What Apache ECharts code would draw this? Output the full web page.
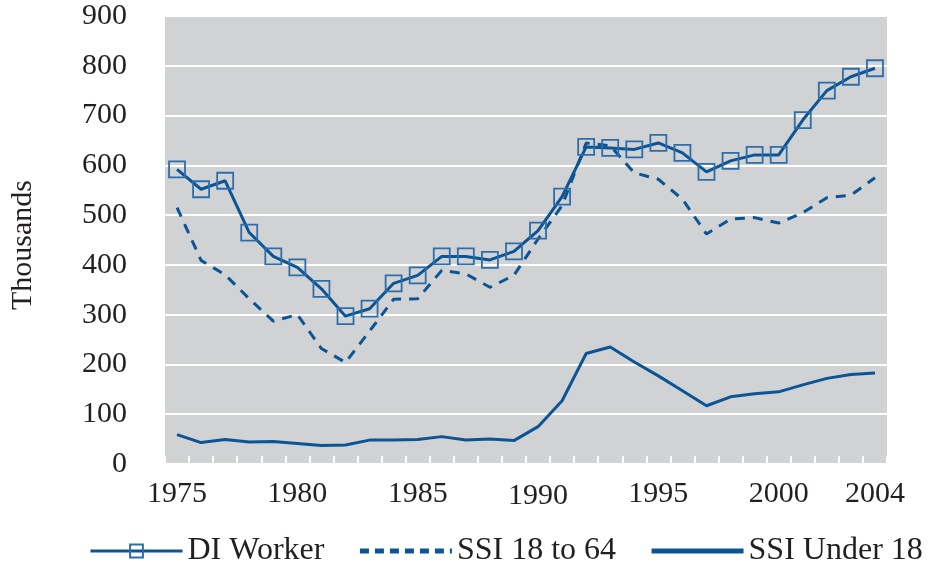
<!DOCTYPE html>
<html>
<head>
<meta charset="utf-8">
<script src="https://cdn.jsdelivr.net/npm/echarts@6/dist/echarts.min.js"></script>
<style>
html,body{margin:0;padding:0;background:#fff;}
#chart{width:933px;height:569px;}
</style>
</head>
<body>
<div id="chart"></div>
<script>
const years = ['1975','1976','1977','1978','1979','1980','1981','1982','1983','1984','1985','1986','1987','1988','1989','1990','1991','1992','1993','1994','1995','1996','1997','1998','1999','2000','2001','2002','2003','2004'];
const xTickLabels = ['1975','1980','1985','1990','1995','2000','2004'];
const diWorker = [592,552,569,465,417,395,352,297,312,363,379,417,417,410,427,469,537,637,635,632,645,625,587,609,621,621,691,750,778,795];
const ssi18to64 = [515,409,380,332,287,300,232,204,267,331,332,389,382,355,379,452,519,645,639,585,572,532,462,492,495,484,505,535,540,575];
const ssiUnder18 = [59,43,49,44,45,41,37,38,48,48,49,55,48,50,47,75,127,222,235,205,177,147,117,135,141,145,159,172,180,183];
const seriesNames = ['DI Worker','SSI 18 to 64','SSI Under 18'];

const FONT = '"Liberation Serif", "DejaVu Serif", serif';
const TXT = '#231f20';
const BLUE = '#0b5596';

const chart = echarts.init(document.getElementById('chart'));
chart.setOption({
  animation: false,
  textStyle: {fontFamily: FONT, color: TXT},
  grid: {left: 165, right: 46, top: 16, bottom: 105, show: true, backgroundColor: '#d1d2d4', borderWidth: 0},
  graphic: [{
    type: 'text', left: 8, top: 180, rotation: Math.PI / 2,
    style: {text: 'Thousands', font: '30px ' + FONT, fill: TXT}
  }],
  legend: {
    left: 84, top: 530, itemWidth: 92, itemHeight: 16, itemGap: 33,
    textStyle: {fontFamily: FONT, fontSize: 32, color: TXT},
    data: [
      {name: seriesNames[0], lineStyle: {width: 3}},
      {name: seriesNames[1], lineStyle: {width: 5, type: [9, 6]}, itemStyle: {opacity: 0}},
      {name: seriesNames[2], lineStyle: {width: 5}, itemStyle: {opacity: 0}}
    ]
  },
  xAxis: {
    type: 'category', data: years, boundaryGap: true,
    axisLine: {show: false},
    axisTick: {show: true, inside: true, length: 8, interval: 0, lineStyle: {color: '#ffffff', width: 2}},
    axisLabel: {
      interval: 0, margin: 15, fontSize: 30, fontFamily: FONT, color: TXT,
      formatter: function (v) {
        if (xTickLabels.indexOf(v) < 0) return '';
        return v === '1990' ? '{low|' + v + '}' : v;
      },
      rich: {low: {fontSize: 30, fontFamily: FONT, color: TXT, padding: [2, 0, 0, 0]}}
    },
    splitLine: {show: false}
  },
  yAxis: {
    type: 'value', min: 0, max: 900, interval: 100,
    axisLine: {show: false}, axisTick: {show: false},
    axisLabel: {margin: 38, fontSize: 30, fontFamily: FONT, color: TXT},
    splitLine: {lineStyle: {color: '#ffffff', width: 2}}
  },
  series: [
    {
      name: seriesNames[0], type: 'line', data: diWorker,
      symbol: 'rect', symbolSize: 16,
      lineStyle: {color: BLUE, width: 3},
      itemStyle: {color: 'rgba(0,0,0,0)', borderColor: '#2d6eaa', borderWidth: 1.8}
    },
    {
      name: seriesNames[1], type: 'line', data: ssi18to64,
      symbol: 'none',
      lineStyle: {color: BLUE, width: 3, type: [10, 8]},
      itemStyle: {color: BLUE}
    },
    {
      name: seriesNames[2], type: 'line', data: ssiUnder18,
      symbol: 'none',
      lineStyle: {color: BLUE, width: 3},
      itemStyle: {color: BLUE}
    }
  ]
});
</script>
</body>
</html>
